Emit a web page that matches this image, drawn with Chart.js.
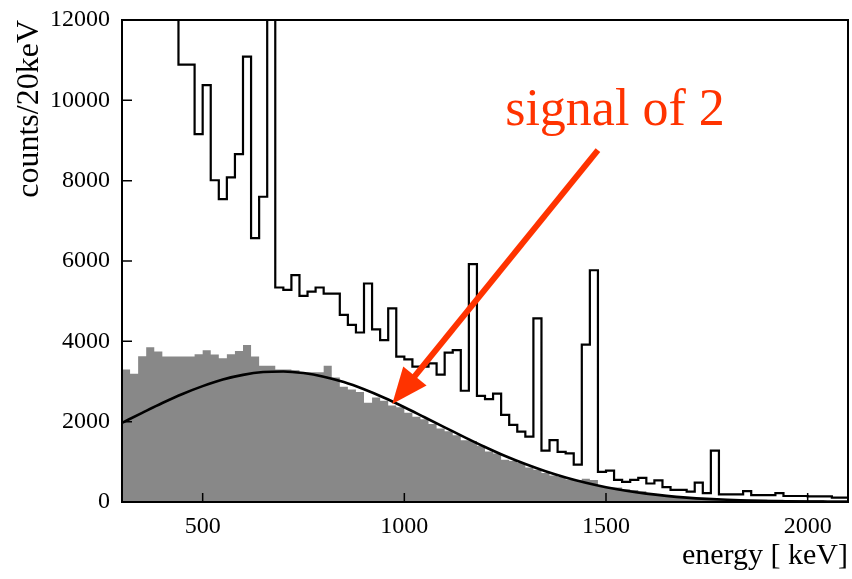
<!DOCTYPE html>
<html>
<head>
<meta charset="utf-8">
<title>counts/20keV</title>
<script src="https://cdn.jsdelivr.net/npm/chart.js@4/dist/chart.umd.min.js"></script>
<style>
  html, body { margin: 0; padding: 0; background: #ffffff; }
  #wrap { width: 852px; height: 579px; }
</style>
</head>
<body>
<div id="wrap"><canvas id="spectrumChart"></canvas></div>
<script>
// Histogram bins: 20 keV wide, starting at 300 keV
const binStart = 300;
const binWidth = 20;

// Measured spectrum (black outline). Values above 12000 run off the top of the plot.
const measuredCounts = [
  15000, 15000, 15000, 15000, 15000, 15000, 15000,
  10890, 10890, 9160, 10380, 8010, 7540, 8080, 8660, 11090, 6570, 7600, 15000,
  5340, 5280, 5650, 5130, 5240, 5340, 5190, 5190, 4660, 4410, 4220, 5440, 4300, 4030, 4820, 3620, 3550, 3370, 3370, 3450, 3170,
  3720, 3780, 2770, 5920, 2640, 2560, 2700, 2170, 1920, 1750, 1630, 4570, 1280, 1540, 1250, 1210, 930, 3920, 5770, 750,
  780, 550, 500, 550, 600, 460, 540, 370, 300, 300, 260, 480, 220, 1280, 190, 190, 190, 270, 170, 170, 170, 220, 150, 150, 150, 140, 140, 140, 110, 110
];

// Signal spectrum (grey filled histogram)
const signalCounts = [
  3300, 3190, 3630, 3850, 3750, 3620, 3620,
  3620, 3620, 3680, 3780, 3670, 3580, 3680, 3760, 3910, 3620, 3390, 3390,
  3300, 3300, 3280, 3230, 3230, 3230, 3390, 3100, 2870, 2800, 2740, 2470, 2600, 2520, 2400, 2360, 2220, 2120, 2060, 1940, 1830,
  1760, 1660, 1540, 1520, 1400, 1260, 1210, 1050, 1020, 970, 860, 800, 720, 660, 620, 560, 540, 580, 550, 400,
  360, 360, 320, 300, 270, 200, 180, 150, 130, 110, 90, 80, 80, 70, 70, 70, 60, 60, 60, 60, 55, 55, 50, 50, 50, 50, 50, 45, 45, 45
];

// Smooth fitted curve
const curveEnergies = [300, 350, 400, 450, 500, 550, 600, 650, 700, 750, 800, 850, 900, 950, 1000, 1050, 1100, 1150, 1200,
  1250, 1300, 1350, 1400, 1450, 1500, 1550, 1600, 1650, 1700, 1750, 1800, 1850, 1900, 1950, 2000, 2050, 2100];
const curveCounts = [1970, 2220, 2465, 2690, 2885, 3050, 3165, 3235, 3250, 3210, 3120, 2985, 2805, 2595, 2360, 2110, 1860, 1610, 1370,
  1145, 945, 765, 610, 478, 368, 279, 208, 153, 110, 78, 55, 38, 26, 18, 12, 8, 5];

// Axis ticks
const xTickValues = [500, 1000, 1500, 2000];
const yTickValues = [0, 2000, 4000, 6000, 8000, 10000, 12000];

// Annotation: label anchor and arrow tail/tip, in data units
const noteText = 'signal of 2';
const noteAt = { x: 1250, y: 9385 };
const arrowFrom = { x: 1480, y: 8760 };
const arrowTo = { x: 970, y: 2440 };

const serif = "'Liberation Serif', 'DejaVu Serif', serif";
const noteColor = '#ff3300';

// step points: left edge of each bin, plus the right edge of the last bin
function histPoints(counts) {
  const pts = counts.map((c, i) => ({ x: binStart + i * binWidth, y: c }));
  pts.push({ x: binStart + counts.length * binWidth, y: counts[counts.length - 1] });
  return pts;
}

// frame, inward tick marks and the arrow annotation
const framePlugin = {
  id: 'frame',
  afterDatasetsDraw(chart) {
    const { ctx, chartArea: a, scales } = chart;
    ctx.save();
    ctx.strokeStyle = '#000';
    ctx.lineWidth = 2;
    ctx.strokeRect(a.left, a.top, a.right - a.left, a.bottom - a.top);

    ctx.lineWidth = 1.5;
    ctx.beginPath();
    xTickValues.forEach(v => {
      const px = scales.x.getPixelForValue(v);
      ctx.moveTo(px, a.bottom);
      ctx.lineTo(px, a.bottom - 9);
    });
    yTickValues.forEach(v => {
      if (v === 0 || v === 12000) return;
      const py = scales.y.getPixelForValue(v);
      ctx.moveTo(a.left, py);
      ctx.lineTo(a.left + 10, py);
    });
    ctx.stroke();

    // annotation text
    ctx.fillStyle = noteColor;
    ctx.font = '52px ' + serif;
    ctx.textAlign = 'left';
    ctx.textBaseline = 'alphabetic';
    ctx.fillText(noteText, scales.x.getPixelForValue(noteAt.x), scales.y.getPixelForValue(noteAt.y));

    // arrow
    const x0 = scales.x.getPixelForValue(arrowFrom.x), y0 = scales.y.getPixelForValue(arrowFrom.y);
    const x1 = scales.x.getPixelForValue(arrowTo.x), y1 = scales.y.getPixelForValue(arrowTo.y);
    const len = Math.hypot(x1 - x0, y1 - y0);
    const ux = (x1 - x0) / len, uy = (y1 - y0) / len;
    const headLen = 36, headHalf = 15;
    const bx = x1 - ux * headLen, by = y1 - uy * headLen;
    ctx.strokeStyle = noteColor;
    ctx.lineWidth = 6;
    ctx.beginPath();
    ctx.moveTo(x0, y0);
    ctx.lineTo(bx + ux * 4, by + uy * 4);
    ctx.stroke();
    ctx.beginPath();
    ctx.moveTo(x1, y1);
    ctx.lineTo(bx - uy * headHalf, by + ux * headHalf);
    ctx.lineTo(bx + uy * headHalf, by - ux * headHalf);
    ctx.closePath();
    ctx.fill();
    ctx.restore();
  }
};

function initializeChart() {
  const ctx = document.getElementById('spectrumChart');
  new Chart(ctx, {
    type: 'line',
    data: {
      datasets: [
        {
          label: 'measured',
          data: histPoints(measuredCounts),
          stepped: true,
          borderColor: '#000000',
          borderWidth: 2.2,
          pointRadius: 0,
          fill: false
        },
        {
          label: 'fit',
          data: curveEnergies.map((e, i) => ({ x: e, y: curveCounts[i] })),
          borderColor: '#000000',
          borderWidth: 2.6,
          cubicInterpolationMode: 'monotone',
          pointRadius: 0,
          fill: false
        },
        {
          label: 'signal',
          data: histPoints(signalCounts),
          stepped: true,
          borderWidth: 0,
          borderColor: 'rgba(0,0,0,0)',
          backgroundColor: '#888888',
          pointRadius: 0,
          fill: 'origin'
        }
      ]
    },
    options: {
      responsive: true,
      maintainAspectRatio: false,
      animation: false,
      layout: { padding: { top: 20, right: 4, left: 0, bottom: 0 } },
      plugins: {
        legend: { display: false },
        tooltip: { enabled: false }
      },
      scales: {
        x: {
          type: 'linear',
          min: 300,
          max: 2100,
          afterFit: s => { s.height = 77; s.paddingLeft = 0; s.paddingRight = 0; },
          afterBuildTicks: s => { s.ticks = xTickValues.map(v => ({ value: v })); },
          grid: { display: false, drawTicks: false },
          border: { display: false },
          ticks: {
            color: '#000',
            padding: 10,
            maxRotation: 0,
            callback: v => String(v),
            font: { family: serif, size: 24 }
          },
          title: {
            display: true,
            text: 'energy [ keV]',
            align: 'end',
            color: '#000',
            padding: { top: 0, bottom: 5 },
            font: { family: serif, size: 30 }
          }
        },
        y: {
          min: 0,
          max: 12000,
          afterFit: s => { s.width = 122; s.paddingTop = 0; s.paddingBottom = 0; },
          afterBuildTicks: s => { s.ticks = yTickValues.map(v => ({ value: v })); },
          grid: { display: false, drawTicks: false },
          border: { display: false },
          ticks: {
            color: '#000',
            padding: 12,
            callback: v => String(v),
            font: { family: serif, size: 24 }
          },
          title: {
            display: true,
            text: 'counts/20keV',
            align: 'end',
            color: '#000',
            padding: { top: 10, bottom: 0 },
            font: { family: serif, size: 32 }
          }
        }
      }
    },
    plugins: [framePlugin]
  });
}

document.addEventListener('DOMContentLoaded', function() {
  initializeChart();
});
</script>
</body>
</html>
